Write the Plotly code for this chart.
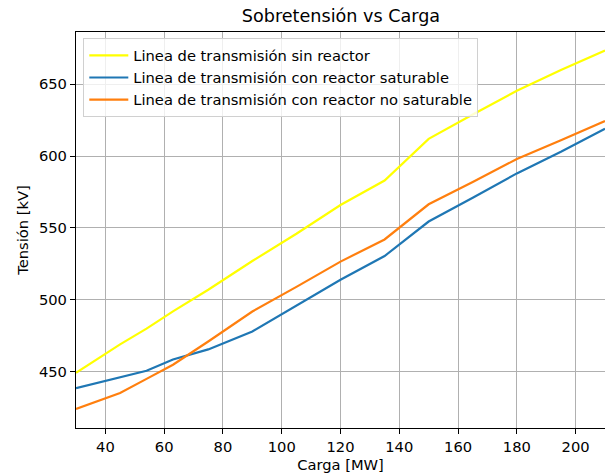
import plotly.graph_objects as go

# Carga (MW) en los puntos calculados
carga = [30, 45, 54, 63, 75, 90, 105, 120, 135, 150, 165, 180, 195, 210]

# Tensión (kV) para cada caso
sin_reactor = [449.2, 469, 480, 492, 507, 527, 546, 566, 583, 612, 629, 645.5, 660, 673.5]
reactor_saturable = [438.6, 445.8, 450.6, 458.5, 465.5, 478, 496, 514, 530.5, 554.5, 571, 588, 603, 619]
reactor_no_saturable = [424, 435.1, 445, 454.8, 471, 491.9, 509, 526.6, 542, 566.5, 582, 598, 611, 624.5]

x_ticks = [40, 60, 80, 100, 120, 140, 160, 180, 200]
y_ticks = [450, 500, 550, 600, 650]

FONT = "DejaVu Sans"
FS = 14.7

fig = go.Figure()
fig.add_trace(go.Scatter(x=carga, y=sin_reactor, mode="lines",
                         name="Linea de transmisión sin reactor",
                         line=dict(color="#ffff00", width=2.2)))
fig.add_trace(go.Scatter(x=carga, y=reactor_saturable, mode="lines",
                         name="Linea de transmisión con reactor saturable",
                         line=dict(color="#1f77b4", width=2.2)))
fig.add_trace(go.Scatter(x=carga, y=reactor_no_saturable, mode="lines",
                         name="Linea de transmisión con reactor no saturable",
                         line=dict(color="#ff7f0e", width=2.2)))

axis_common = dict(
    showgrid=True, gridcolor="#b0b0b0", gridwidth=1.1,
    showline=True, linecolor="black", linewidth=1.2,
    ticks="outside", ticklen=5, tickwidth=1.2, tickcolor="black",
    tickfont=dict(family=FONT, size=FS, color="black"),
    zeroline=False,
)

fig.update_layout(
    width=605, height=473,
    margin=dict(l=76, r=0, t=32, b=45),
    paper_bgcolor="white", plot_bgcolor="white",
    font=dict(family=FONT, size=FS, color="black"),
    title=dict(text="Sobretensión vs Carga", x=(76 + 606) / 2 / 605, xanchor="center",
               y=1 - 16 / 473, yanchor="middle", yref="container",
               font=dict(family=FONT, size=17.6, color="black")),
    xaxis=dict(range=[30, 210], tickvals=x_ticks, mirror=True,
               title=dict(text="Carga [MW]", standoff=5,
                          font=dict(family=FONT, size=FS)),
               **axis_common),
    yaxis=dict(range=[410.8, 686.4], tickvals=y_ticks, mirror=False,
               title=dict(text="Tensión [kV]", standoff=6,
                          font=dict(family=FONT, size=FS)),
               **axis_common),
    legend=dict(x=0.0138, y=0.984, xanchor="left", yanchor="top",
                itemwidth=39,
                bgcolor="rgba(255,255,255,0.8)", bordercolor="#d0d0d0",
                borderwidth=1, font=dict(family=FONT, size=FS, color="black")),
    showlegend=True,
)

fig.write_html("out.html")
